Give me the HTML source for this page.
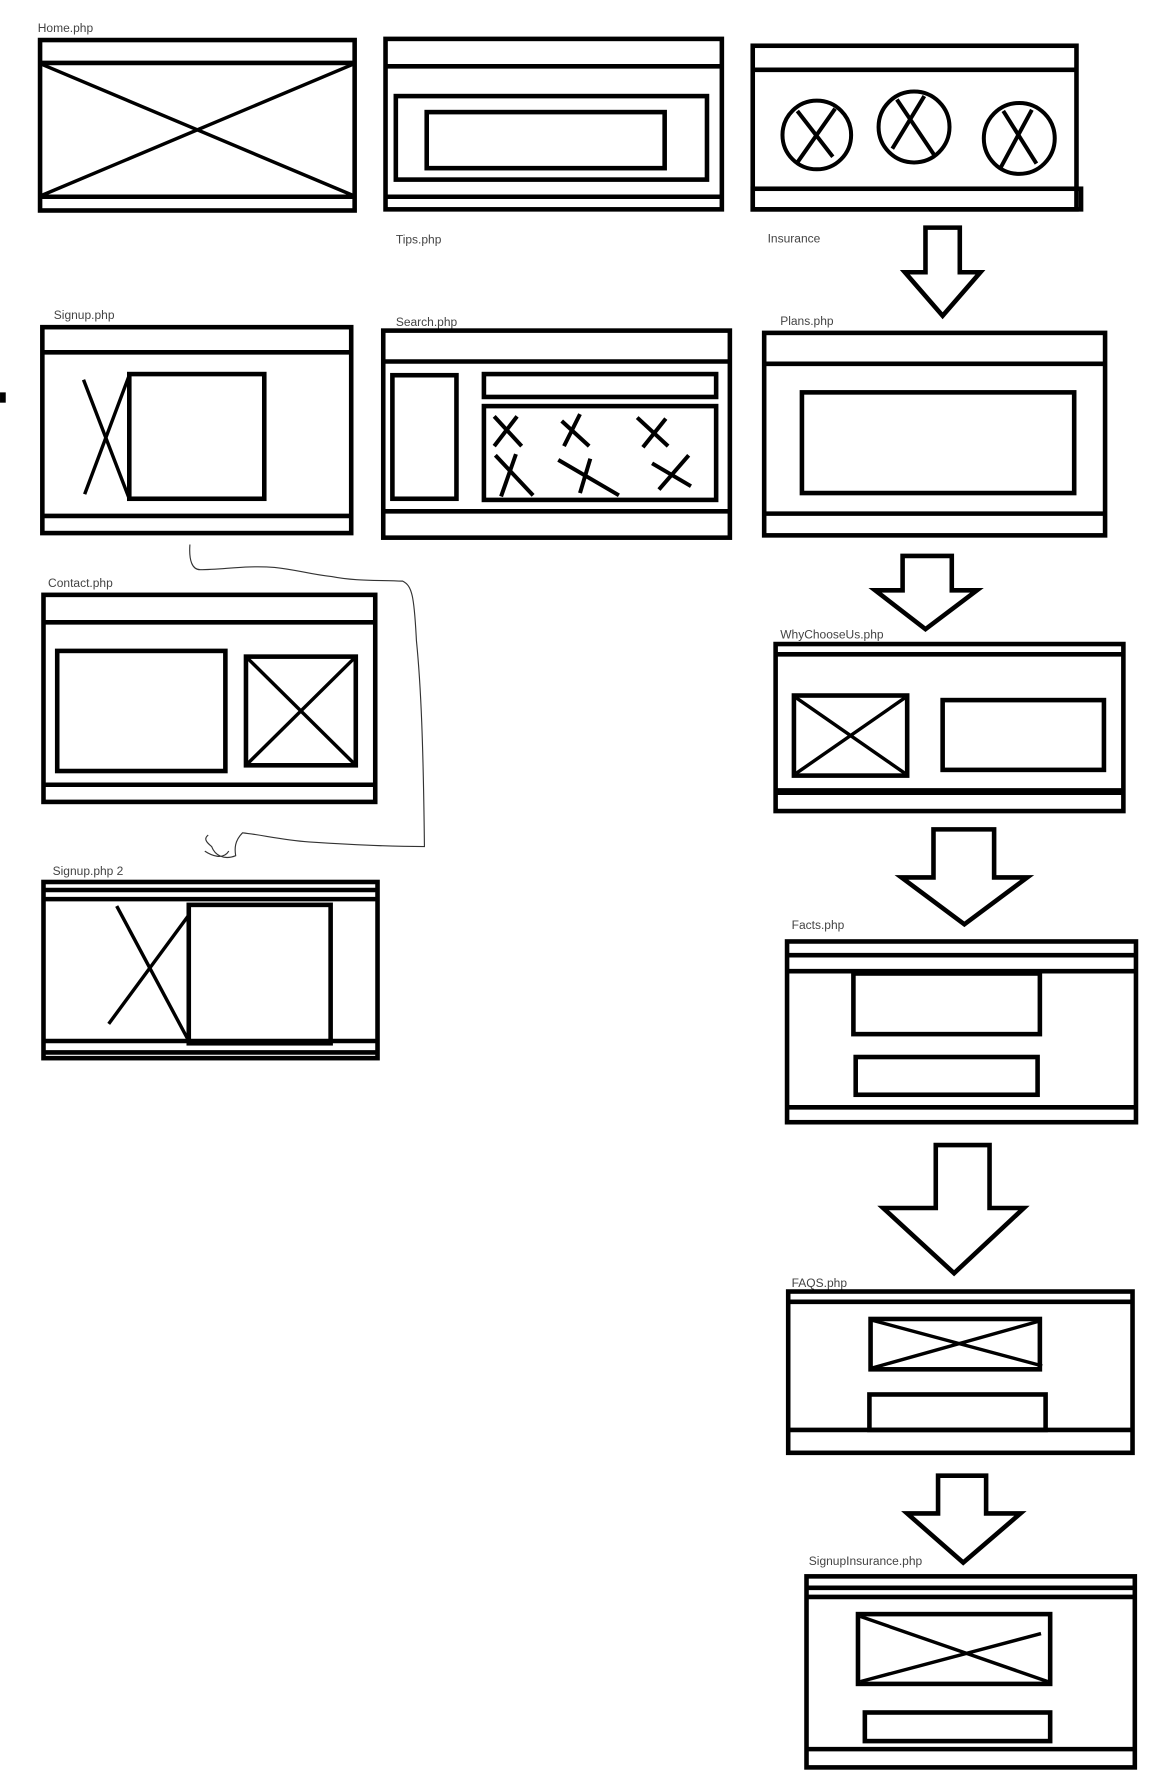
<!DOCTYPE html>
<html><head><style>html,body{margin:0;padding:0;background:#fff}svg{display:block}</style></head>
<body>
<svg width="1152" height="1792" viewBox="0 0 1007 1566.5" xmlns="http://www.w3.org/2000/svg">
<rect width="1010" height="1570" fill="#fff"/>
<g font-family="Liberation Sans, sans-serif" font-size="10.5" fill="#444">
<text x="33" y="28">Home.php</text>
<text x="346" y="213">Tips.php</text>
<text x="671" y="212">Insurance</text>
<text x="47" y="279">Signup.php</text>
<text x="346" y="285">Search.php</text>
<text x="682" y="284">Plans.php</text>
<text x="42" y="513">Contact.php</text>
<text x="46" y="765">Signup.php 2</text>
<text x="682" y="558">WhyChooseUs.php</text>
<text x="692" y="812">Facts.php</text>
<text x="692" y="1125">FAQS.php</text>
<text x="707" y="1368">SignupInsurance.php</text>
</g>
<g fill="none" stroke="#000" stroke-width="4">
<rect x="35" y="35" width="275" height="149"/>
<line x1="35" y1="55" x2="310" y2="55"/><line x1="35" y1="172" x2="310" y2="172"/>
<line x1="36" y1="56" x2="309" y2="171" stroke-width="3"/><line x1="36" y1="171" x2="309" y2="56" stroke-width="3"/>
<rect x="337" y="34" width="294" height="149"/>
<line x1="337" y1="58" x2="631" y2="58"/><line x1="337" y1="172" x2="631" y2="172"/>
<rect x="346" y="84" width="272" height="73"/><rect x="373" y="98" width="208" height="49"/>
<rect x="658" y="40" width="283" height="143"/>
<line x1="658" y1="61" x2="941" y2="61"/><rect x="658" y="165" width="287" height="18"/>
<circle cx="714" cy="118" r="30" stroke-width="3.5"/><line x1="697" y1="142" x2="730" y2="95" stroke-width="3.5"/><line x1="697" y1="97" x2="728" y2="137" stroke-width="3.5"/>
<circle cx="799" cy="111" r="31" stroke-width="3.5"/><line x1="784" y1="87" x2="817" y2="136" stroke-width="3.5"/><line x1="780" y1="130" x2="808" y2="84" stroke-width="3.5"/>
<circle cx="891" cy="121" r="31" stroke-width="3.5"/><line x1="877" y1="97" x2="906" y2="143" stroke-width="3.5"/><line x1="875" y1="146" x2="902" y2="96" stroke-width="3.5"/>
<polygon points="809,199 839,199 839,238 857,238 824,276 791,238 809,238"/>
<polygon points="789,486 832,486 832,516 854,516 809,550 765,516 789,516"/>
<polygon points="816,725 869,725 869,767 898,767 843,808 788,767 816,767"/>
<polygon points="818,1001 865,1001 865,1056 895,1056 834,1113 772,1056 818,1056"/>
<polygon points="820,1290 862,1290 862,1323 892,1323 842,1366 793,1323 820,1323"/>
<rect x="37" y="286" width="270" height="180"/>
<line x1="37" y1="308" x2="307" y2="308"/><line x1="37" y1="451" x2="307" y2="451"/>
<rect x="113" y="327" width="118" height="109"/>
<line x1="73" y1="332" x2="113" y2="436" stroke-width="3"/><line x1="74" y1="432" x2="113" y2="328" stroke-width="3"/>
<rect x="335" y="289" width="303" height="181"/>
<line x1="335" y1="316" x2="638" y2="316"/><line x1="335" y1="447" x2="638" y2="447"/>
<rect x="343" y="328" width="56" height="108"/><rect x="423" y="327" width="203" height="20"/><rect x="423" y="355" width="203" height="82"/>
<g stroke-width="3.5">
<line x1="432" y1="364" x2="456" y2="390"/><line x1="432" y1="390" x2="452" y2="364"/>
<line x1="491" y1="368" x2="515" y2="390"/><line x1="493" y1="390" x2="507" y2="362"/>
<line x1="557" y1="365" x2="584" y2="390"/><line x1="562" y1="391" x2="582" y2="366"/>
<line x1="433" y1="398" x2="466" y2="433"/><line x1="438" y1="434" x2="451" y2="397"/>
<line x1="488" y1="402" x2="541" y2="433"/><line x1="507" y1="431" x2="516" y2="401"/>
<line x1="570" y1="405" x2="604" y2="425"/><line x1="576" y1="428" x2="602" y2="398"/>
</g>
<rect x="668" y="291" width="298" height="177"/>
<line x1="668" y1="318" x2="966" y2="318"/><line x1="668" y1="449" x2="966" y2="449"/>
<rect x="701" y="343" width="238" height="88"/>
<rect x="38" y="520" width="290" height="181"/>
<line x1="38" y1="544" x2="328" y2="544"/><line x1="38" y1="686" x2="328" y2="686"/>
<rect x="50" y="569" width="147" height="105"/>
<rect x="215" y="574" width="96" height="95"/>
<line x1="217" y1="576" x2="309" y2="667" stroke-width="3"/><line x1="217" y1="667" x2="309" y2="576" stroke-width="3"/>
<rect x="38" y="771" width="292" height="154"/>
<line x1="38" y1="778" x2="330" y2="778"/><line x1="38" y1="786" x2="330" y2="786"/>
<line x1="38" y1="910" x2="330" y2="910"/><line x1="38" y1="920" x2="330" y2="920"/>
<rect x="165" y="791" width="124" height="121"/>
<line x1="102" y1="792" x2="165" y2="910" stroke-width="3"/><line x1="95" y1="895" x2="165" y2="800" stroke-width="3"/>
<rect x="678" y="563" width="304" height="146"/>
<line x1="678" y1="572" x2="982" y2="572"/><line x1="678" y1="692" x2="982" y2="692" stroke-width="6"/>
<rect x="694" y="608" width="99" height="70"/>
<line x1="696" y1="610" x2="791" y2="676" stroke-width="3"/><line x1="696" y1="676" x2="791" y2="610" stroke-width="3"/>
<rect x="824" y="612" width="141" height="61"/>
<rect x="688" y="823" width="305" height="158"/>
<line x1="688" y1="835" x2="993" y2="835"/><line x1="688" y1="849" x2="993" y2="849"/><line x1="688" y1="968" x2="993" y2="968"/>
<rect x="746" y="851" width="163" height="53"/><rect x="748" y="924" width="159" height="33"/>
<rect x="689" y="1129" width="301" height="141"/>
<line x1="689" y1="1138" x2="990" y2="1138"/><line x1="689" y1="1250" x2="990" y2="1250"/>
<rect x="761" y="1153" width="148" height="44"/>
<line x1="762" y1="1154" x2="911" y2="1194" stroke-width="3"/><line x1="762" y1="1196" x2="908" y2="1155" stroke-width="3"/>
<rect x="760" y="1219" width="154" height="31"/>
<rect x="705" y="1378" width="287" height="167"/>
<line x1="705" y1="1388" x2="992" y2="1388"/><line x1="705" y1="1396" x2="992" y2="1396"/><line x1="705" y1="1529" x2="992" y2="1529"/>
<rect x="750" y="1411" width="168" height="61"/>
<line x1="752" y1="1413" x2="916" y2="1470" stroke-width="3"/><line x1="752" y1="1470" x2="910" y2="1428" stroke-width="3"/>
<rect x="756" y="1497" width="162" height="25"/>
</g>
<rect x="0" y="343" width="5" height="9" fill="#000"/>
<path d="M166,476 C165,490 168,498 175,498 C195,498 215,494 240,496 C260,498 270,502 290,504 C310,508 330,507 352,508 C360,512 362,520 364,560 C368,600 370,650 371,740 C340,740 300,738 270,736 C245,734 230,730 212,728 C205,735 205,742 206,748 C196,752 188,748 185,740 C180,736 178,733 182,730 M179,744 C185,748 195,752 200,744" fill="none" stroke="#333" stroke-width="1"/>
</svg>
</body></html>
